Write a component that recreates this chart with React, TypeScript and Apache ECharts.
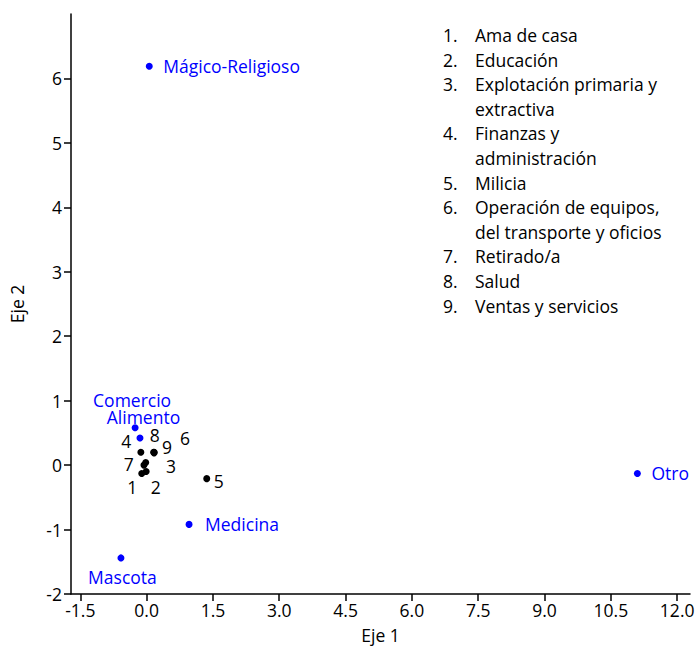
import React, { useEffect, useRef } from "react";
import * as echarts from "echarts";

const blueNames = ["Mágico-Religioso", "Comercio", "Alimento", "Otro", "Medicina", "Mascota"];
const blueX = [0.06, -0.26, -0.15, 11.1, 0.96, -0.58];
const blueY = [6.19, 0.58, 0.42, -0.13, -0.92, -1.44];

const blackNames = ["1", "2", "3", "4", "5", "6", "7", "8", "9"];
const blackX = [-0.11, -0.01, -0.06, -0.13, 1.36, 0.17, -0.02, 0.16, 0.17];
const blackY = [-0.13, -0.1, 0.0, 0.2, -0.21, 0.2, 0.04, 0.2, 0.19];

const xTicks = [-1.5, 0, 1.5, 3, 4.5, 6, 7.5, 9, 10.5, 12];
const yTicks = [-2, -1, 0, 1, 2, 3, 4, 5, 6];

const legendItems = [
  ["Ama de casa"],
  ["Educación"],
  ["Explotación primaria y", "extractiva"],
  ["Finanzas y", "administración"],
  ["Milicia"],
  ["Operación de equipos,", "del transporte y oficios"],
  ["Retirado/a"],
  ["Salud"],
  ["Ventas y servicios"],
];

const FONT = "Open Sans";
const FS = 17.5;

// label placement [dx, dy, align]
const blueLabelPos: Record<string, [number, number, string]> = {
  "Mágico-Religioso": [14, 0, "left"],
  Comercio: [-3, -28, "center"],
  Alimento: [3.5, -21, "center"],
  Otro: [14, 0, "left"],
  Medicina: [16, 0, "left"],
  Mascota: [1.5, 19, "center"],
};
const blackLabelPos: Record<string, [number, number]> = {
  "1": [-9.5, 14],
  "2": [9.5, 15],
  "3": [27, 1],
  "4": [-14.5, -11],
  "5": [12, 2],
  "6": [31, -14],
  "7": [-17, 1],
  "8": [1, -17.5],
  "9": [13, -6],
};

export default function App() {
  const ref = useRef<HTMLDivElement>(null);
  useEffect(() => {
    document.body.style.margin = "0";
    const chart = echarts.init(ref.current!, null, { renderer: "svg" });

    const blueData = blueNames.map((n, i) => {
      const p = blueLabelPos[n];
      return {
        name: n,
        value: [blueX[i], blueY[i]],
        label: {
          show: true,
          position: "inside",
          offset: [p[0], p[1]],
          align: p[2],
          verticalAlign: "middle",
          formatter: n,
          color: "#0000ff",
          fontFamily: FONT,
          fontSize: FS,
        },
      };
    });
    const blackData = blackNames.map((n, i) => {
      const p = blackLabelPos[n];
      return {
        name: n,
        value: [blackX[i], blackY[i]],
        label: {
          show: true,
          position: "inside",
          offset: [p[0], p[1]],
          align: "center",
          verticalAlign: "middle",
          formatter: n,
          color: "#000",
          fontFamily: FONT,
          fontSize: FS,
        },
      };
    });

    const graphics: any[] = [];
    let line = 0;
    const top0 = 35;
    const step = 24.6;
    legendItems.forEach((lines, i) => {
      graphics.push({
        type: "text",
        x: 443,
        y: top0 + line * step,
        style: { text: `${i + 1}.`, fill: "#000", font: `${FS}px "${FONT}"`, verticalAlign: "middle" },
      });
      lines.forEach((t) => {
        graphics.push({
          type: "text",
          x: 475,
          y: top0 + line * step,
          style: { text: t, fill: "#000", font: `${FS}px "${FONT}"`, verticalAlign: "middle" },
        });
        line++;
      });
    });

    chart.setOption({
      animation: false,
      textStyle: { fontFamily: FONT },
      grid: { left: 71, top: 14, width: 619, height: 580, containLabel: false, outerBoundsMode: "none" },
      xAxis: {
        type: "value",
        min: -1.71,
        max: 12.29,
        name: "Eje 1",
        nameLocation: "middle",
        nameGap: 32,
        nameTextStyle: { color: "#000", fontSize: FS, fontFamily: FONT },
        axisLine: { show: true, onZero: false, lineStyle: { color: "#000", width: 1.5 } },
        axisTick: { show: true, length: 7, customValues: xTicks, lineStyle: { color: "#000", width: 1.5 } },
        axisLabel: {
          customValues: xTicks,
          formatter: (v: number) => v.toFixed(1),
          color: "#000",
          fontSize: FS,
          fontFamily: FONT,
          margin: 7,
        },
        splitLine: { show: false },
      },
      yAxis: {
        type: "value",
        min: -2,
        max: 7,
        name: "Eje 2",
        nameLocation: "middle",
        nameGap: 45,
        nameTextStyle: { color: "#000", fontSize: FS, fontFamily: FONT },
        axisLine: { show: true, onZero: false, lineStyle: { color: "#000", width: 1.5 } },
        axisTick: { show: true, length: 7, customValues: yTicks, lineStyle: { color: "#000", width: 1.5 } },
        axisLabel: {
          customValues: yTicks,
          formatter: (v: number) => String(v),
          color: "#000",
          fontSize: FS,
          fontFamily: FONT,
          margin: 9,
        },
        splitLine: { show: false },
      },
      series: [
        {
          type: "scatter",
          symbol: "circle",
          symbolSize: 7,
          itemStyle: { color: "#0000ff", opacity: 1 },
          data: blueData,
          z: 3,
        },
        {
          type: "scatter",
          symbol: "circle",
          symbolSize: 7,
          itemStyle: { color: "#000", opacity: 1 },
          data: blackData,
          z: 2,
        },
      ],
      graphic: graphics,
    });
    return () => chart.dispose();
  }, []);
  return <div ref={ref} style={{ width: 695, height: 647 }} />;
}
